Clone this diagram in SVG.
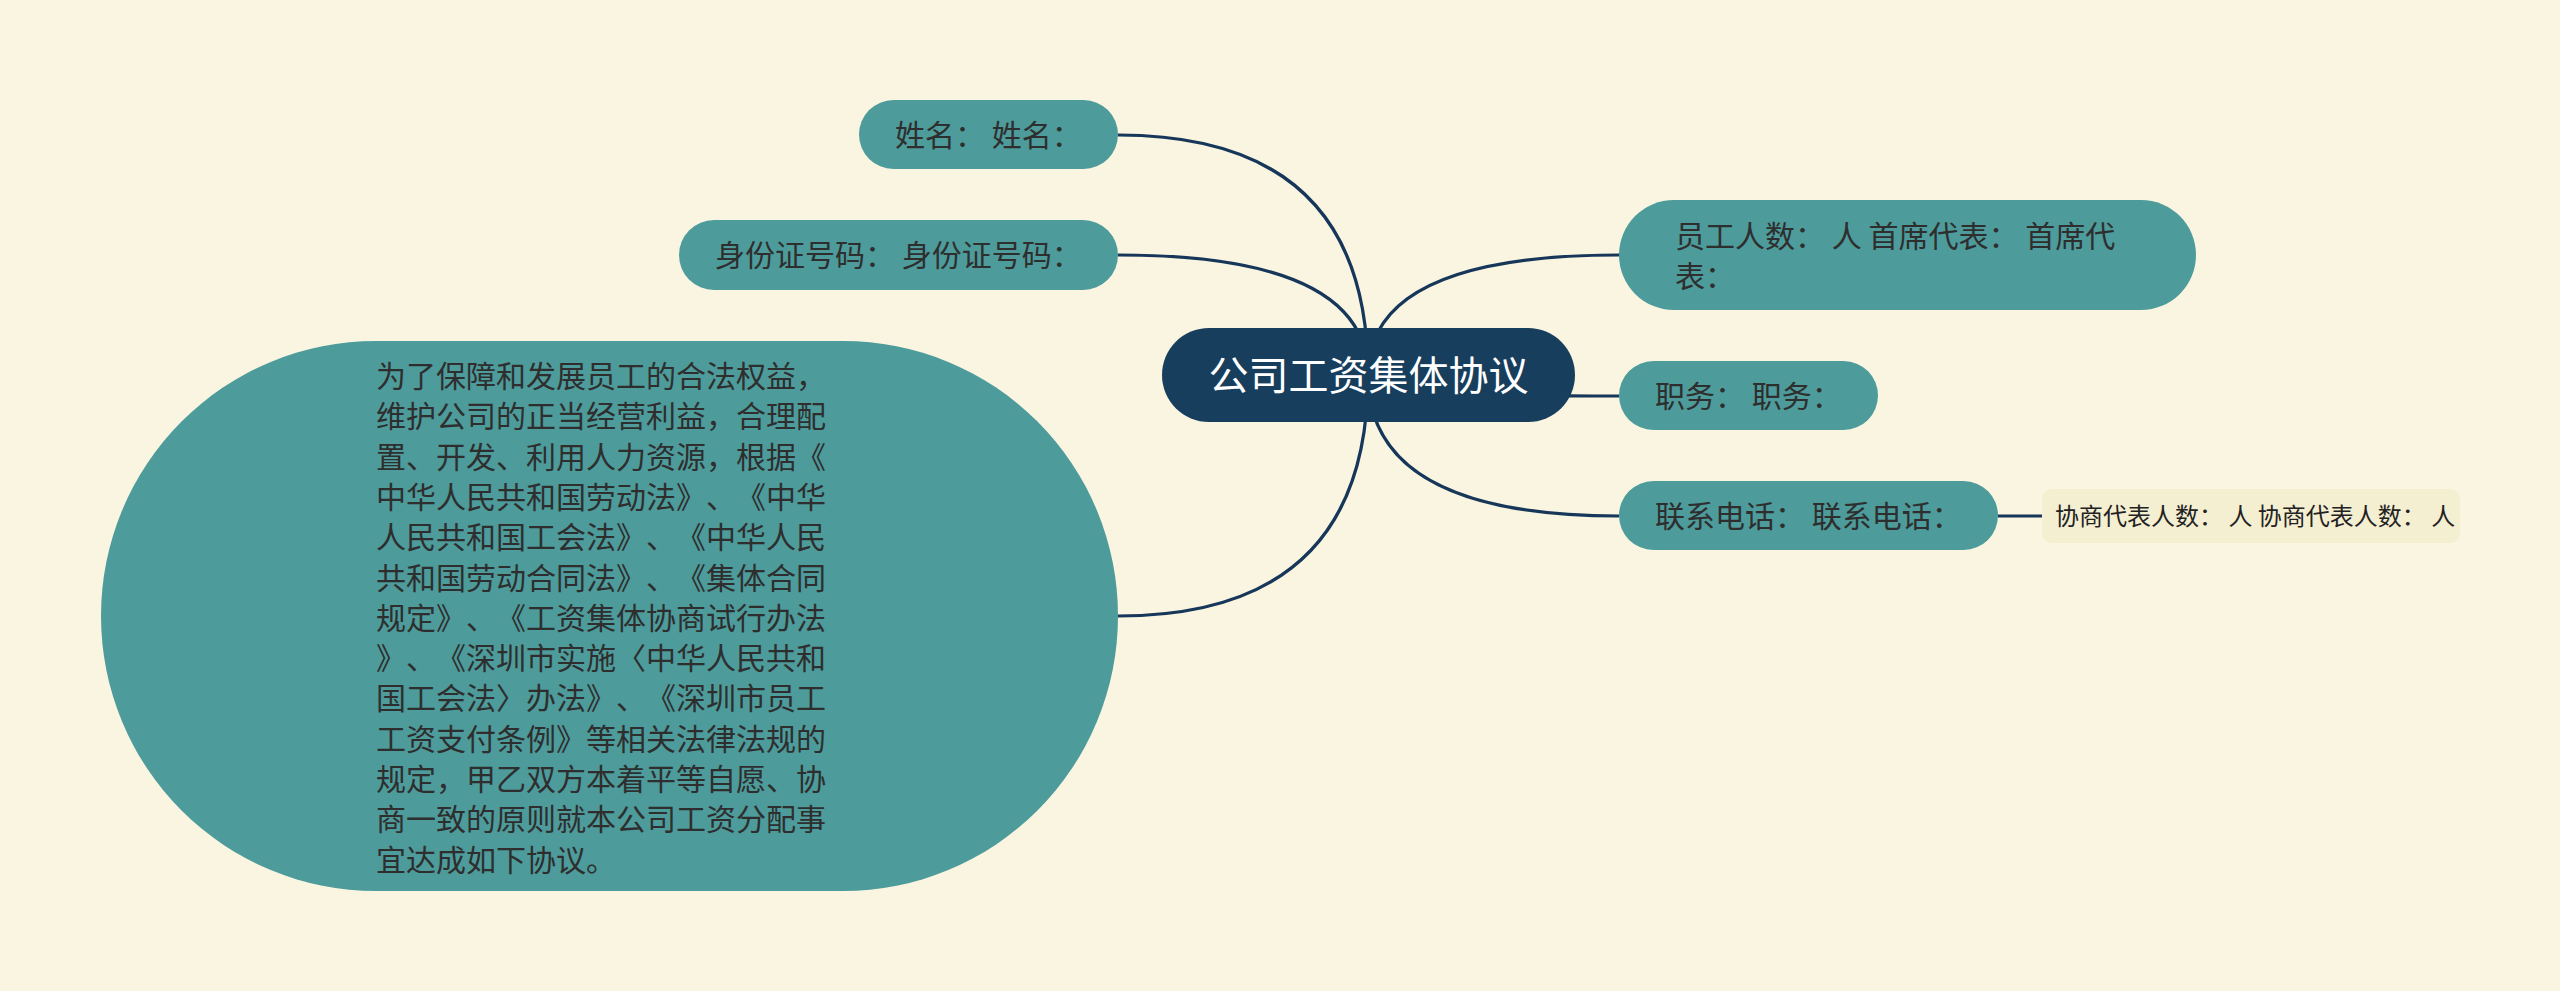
<svg xmlns="http://www.w3.org/2000/svg" width="2560" height="991" viewBox="0 0 2560 991">
<style>
.bg{fill:#faf5e1}
.conn{fill:none;stroke:#17375a;stroke-width:3.2}
.teal{fill:#4d9b9b}
.root{fill:#173e5d}
.leaf{fill:#f5efd2}
text{font-family:"Noto Sans CJK SC","Noto Sans",sans-serif;text-spacing-trim:space-all;font-feature-settings:"chws" 0,"halt" 0,"palt" 0;font-kerning:none}
.t{font-size:30px;fill:#2e2e2e}
.rt{font-size:40px;fill:#ffffff}
.lt{font-size:24px;fill:#222222}
</style>
<rect class="bg" x="0" y="0" width="2560" height="991"/>
<g id="connectors">
<path class="conn" d="M1118 135 Q1368 135 1368 375"/>
<path class="conn" d="M1118 255 Q1368 255 1368 375"/>
<path class="conn" d="M1118 616 Q1368 616 1368 375"/>
<path class="conn" d="M1619 255 Q1368 255 1368 375"/>
<path class="conn" d="M1619 396 Q1368 396 1368 375"/>
<path class="conn" d="M1619 516 Q1368 516 1368 375"/>
<path class="conn" d="M1998 516 L2042 516"/>
</g>
<g id="root">
<rect class="root" x="1162" y="328" width="413" height="94" rx="47"/>
<text class="rt" x="1368.5" y="390" text-anchor="middle">公司工资集体协议</text>
</g>
<g id="node-name">
<rect class="teal" x="859" y="100" width="259" height="69" rx="34.5"/>
<text class="t" x="895" y="146">姓名： 姓名：</text>
</g>
<g id="node-id">
<rect class="teal" x="679" y="220" width="439" height="70" rx="35"/>
<text class="t" x="715" y="266">身份证号码： 身份证号码：</text>
</g>
<g id="node-preamble">
<rect class="teal" x="101" y="341" width="1017" height="550" rx="275"/>
<text class="t">
<tspan x="376" y="387">为了保障和发展员工的合法权益，</tspan>
<tspan x="376" y="427.3">维护公司的正当经营利益，合理配</tspan>
<tspan x="376" y="467.6">置、开发、利用人力资源，根据《</tspan>
<tspan x="376" y="507.9">中华人民共和国劳动法》、《中华</tspan>
<tspan x="376" y="548.2">人民共和国工会法》、《中华人民</tspan>
<tspan x="376" y="588.5">共和国劳动合同法》、《集体合同</tspan>
<tspan x="376" y="628.8">规定》、《工资集体协商试行办法</tspan>
<tspan x="376" y="669.1">》、《深圳市实施〈中华人民共和</tspan>
<tspan x="376" y="709.4">国工会法〉办法》、《深圳市员工</tspan>
<tspan x="376" y="749.7">工资支付条例》等相关法律法规的</tspan>
<tspan x="376" y="790">规定，甲乙双方本着平等自愿、协</tspan>
<tspan x="376" y="830.3">商一致的原则就本公司工资分配事</tspan>
<tspan x="376" y="870.6">宜达成如下协议。</tspan>
</text>
</g>
<g id="node-staff">
<rect class="teal" x="1619" y="200" width="577" height="110" rx="55"/>
<text class="t"><tspan x="1675" y="247">员工人数： 人 首席代表： 首席代</tspan><tspan x="1675" y="287">表：</tspan></text>
</g>
<g id="node-position">
<rect class="teal" x="1619" y="361" width="259" height="69" rx="34.5"/>
<text class="t" x="1655" y="407">职务： 职务：</text>
</g>
<g id="node-phone">
<rect class="teal" x="1619" y="481" width="379" height="69" rx="34.5"/>
<text class="t" x="1655" y="527">联系电话： 联系电话：</text>
</g>
<g id="node-reps">
<rect class="leaf" x="2042" y="489" width="418" height="54" rx="9"/>
<text class="lt" x="2055" y="525">协商代表人数： 人 协商代表人数： 人</text>
</g>
</svg>
